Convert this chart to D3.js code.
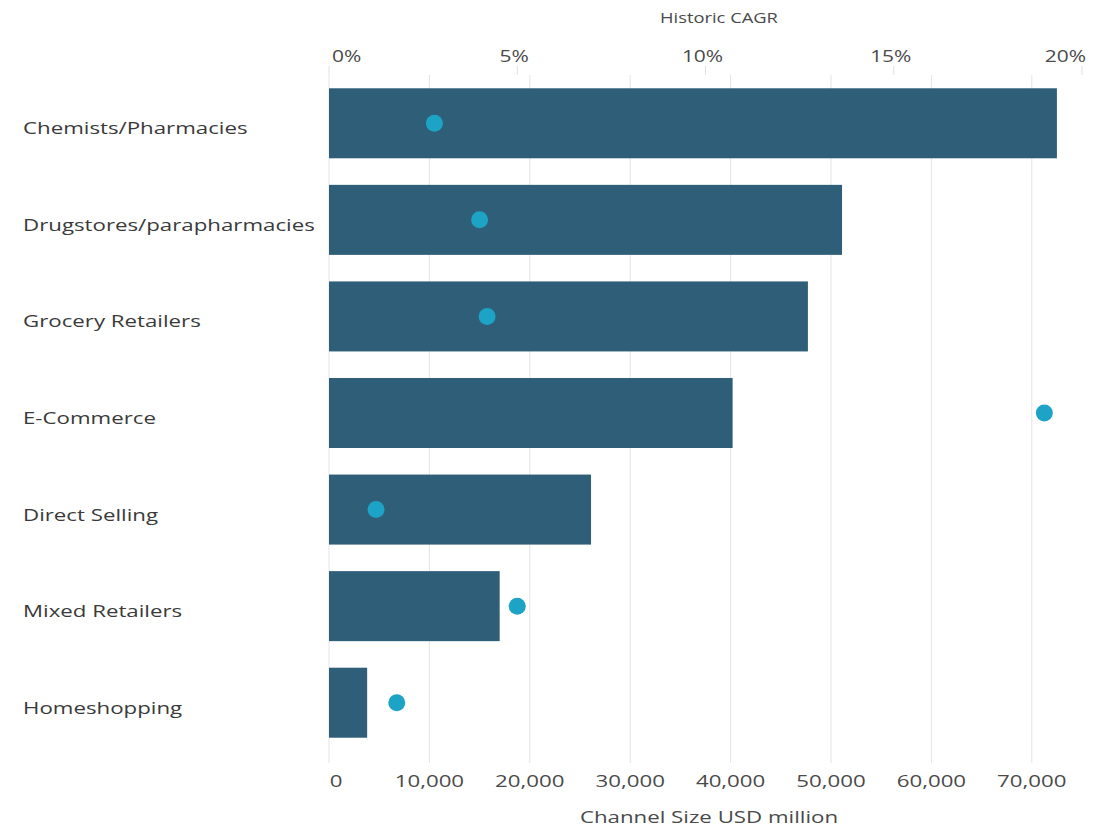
<!DOCTYPE html>
<html>
<head>
<meta charset="utf-8">
<script src="https://cdn.jsdelivr.net/npm/d3@7"></script>
<style>
  html, body { margin: 0; padding: 0; background: #ffffff; }
  svg { display: block; }
  text { font-family: "Open Sans", "Noto Sans", sans-serif; }
</style>
</head>
<body>
<svg id="chart" width="1101" height="829"></svg>
<script>
// Retail channels, size (USD million) and historic CAGR
const channels = [
  "Chemists/Pharmacies",
  "Drugstores/parapharmacies",
  "Grocery Retailers",
  "E-Commerce",
  "Direct Selling",
  "Mixed Retailers",
  "Homeshopping"
];
const channelSize = [72500, 51100, 47700, 40200, 26100, 17000, 3800];
const historicCagr = [0.028, 0.040, 0.042, 0.190, 0.0125, 0.050, 0.018];
const sizeTicks = [0, 10000, 20000, 30000, 40000, 50000, 60000, 70000];
const cagrTicks = [0, 0.05, 0.10, 0.15, 0.20];

const svg = d3.select("#chart");
const plot = { left: 329, right: 1082, top: 75, bottom: 751 };
// the typeface is set wide: every label is stretched horizontally
const stretch = 1.31;
const place = (px, py) => `translate(${px},${py}) scale(${stretch},1)`;

const x = d3.scaleLinear().domain([0, 75000]).range([plot.left, plot.right]);
const xTop = d3.scaleLinear().domain([0, 0.20]).range([plot.left, plot.right]);
const y = d3.scaleBand().domain(channels).range([plot.top, plot.bottom])
  .paddingInner(0.275).paddingOuter(0.1375);

// vertical gridlines for the channel size scale
svg.append("g").selectAll("line").data(sizeTicks).join("line")
  .attr("x1", d => x(d)).attr("x2", d => x(d))
  .attr("y1", plot.top).attr("y2", plot.bottom + 12)
  .attr("stroke", "#e4e4e4").attr("stroke-width", 1);

// short tick marks under the CAGR labels
svg.append("g").selectAll("line").data(cagrTicks).join("line")
  .attr("x1", d => xTop(d)).attr("x2", d => xTop(d))
  .attr("y1", 66).attr("y2", plot.top)
  .attr("stroke", "#e0e0e0").attr("stroke-width", 1);

// bars: channel size
svg.append("g").selectAll("rect").data(channels).join("rect")
  .attr("x", x(0))
  .attr("y", d => y(d))
  .attr("width", (d, i) => x(channelSize[i]) - x(0))
  .attr("height", y.bandwidth())
  .attr("fill", "#2f5e78");

// dots: historic CAGR
svg.append("g").selectAll("circle").data(channels).join("circle")
  .attr("cx", (d, i) => xTop(historicCagr[i]))
  .attr("cy", d => y(d) + y.bandwidth() / 2)
  .attr("r", 8.5)
  .attr("fill", "#1ca3c5");

// category labels
svg.append("g").selectAll("text").data(channels).join("text")
  .attr("transform", d => place(23, y(d) + y.bandwidth() / 2 + 5))
  .attr("dy", "0.35em")
  .attr("font-size", 17)
  .attr("fill", "#3a3a3a")
  .text(d => d);

// bottom axis labels
const fmt = d3.format(",");
svg.append("g").selectAll("text").data(sizeTicks).join("text")
  .attr("transform", d => place(x(d) + (d === 0 ? 7 : 0), 781))
  .attr("dy", "0.35em")
  .attr("text-anchor", "middle")
  .attr("font-size", 17)
  .attr("fill", "#4a4a4a")
  .text(d => fmt(d));

// top axis labels
const pct = d3.format(".0%");
const last = cagrTicks.length - 1;
svg.append("g").selectAll("text").data(cagrTicks).join("text")
  .attr("transform", (d, i) => place(i === 0 ? xTop(d) + 3 : i === last ? xTop(d) + 4 : xTop(d) - 3, 56))
  .attr("dy", "0.35em")
  .attr("text-anchor", (d, i) => i === 0 ? "start" : i === last ? "end" : "middle")
  .attr("font-size", 16)
  .attr("fill", "#4a4a4a")
  .text(d => pct(d));

// axis titles
svg.append("text")
  .attr("transform", place(719, 18))
  .attr("dy", "0.35em")
  .attr("text-anchor", "middle")
  .attr("font-size", 14).attr("fill", "#4a4a4a")
  .text("Historic CAGR");

svg.append("text")
  .attr("transform", place(709, 817))
  .attr("dy", "0.35em")
  .attr("text-anchor", "middle")
  .attr("font-size", 17).attr("fill", "#4a4a4a")
  .text("Channel Size USD million");
</script>
</body>
</html>
